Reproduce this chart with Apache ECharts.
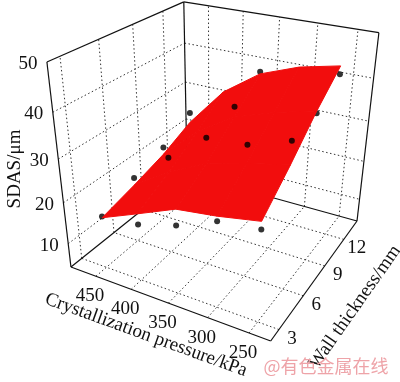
<!DOCTYPE html>
<html><head><meta charset="utf-8">
<style>html,body{margin:0;padding:0;background:#fff}#c{width:400px;height:382px}</style>
<script src="https://cdn.jsdelivr.net/npm/echarts@6/dist/echarts.min.js"></script>
</head><body><div id="c"></div>
<script>
// ---- tick labels ----
const pressureTicks = [450, 400, 350, 300, 250];
const thicknessTicks = [3, 6, 9, 12];
const sdasTicks = [10, 20, 30, 40, 50];
// ---- fitted surface, rows = thickness, columns = pressure ----
const surfaceT3  = [16.5, 20.2, 24.0, 25.2, 26.9];
const surfaceT6  = [18.5, 24.0, 28.5, 30.8, 32.8];
const surfaceT9  = [20.8, 28.5, 34.0, 37.0, 39.3];
const surfaceT12 = [24.1, 33.7, 39.7, 42.9, 44.8];
// ---- measured points ----
const dotPressure  = [450, 400, 350, 300, 250, 450, 450, 450, 250, 250, 250, 400, 350, 300, 350, 350];
const dotThickness = [3, 3, 3, 3, 3, 6, 9, 12, 6, 9, 12, 6, 6, 6, 9, 12];
const dotSdas      = [16.8, 17.7, 20.3, 24.1, 25.2, 20.2, 22.5, 26.5, 37.8, 38.8, 43.0, 27.4, 34.1, 34.8, 36.3, 40.2];
const dotBehind    = [1, 0, 0, 0, 0, 0, 1, 1, 0, 1, 1, 0, 0, 0, 0, 1];
// ---- axis ranges ----
const pressureRange = [225, 487];
const thicknessRange = [2.07, 14.3];
const sdasRange = [4, 50];

// perspective camera
const origin = [270.7, 341], vanU = [-1258, -225.6], vanV = [667, -210], vanW = [212, 1469];
const wU = 0.1503, wV = 0.2784, wW = -0.1676;
function project(p, t, s) {
  const u = (p - pressureRange[0]) / (pressureRange[1] - pressureRange[0]);
  const v = (t - thicknessRange[0]) / (thicknessRange[1] - thicknessRange[0]);
  const w = (s - sdasRange[0]) / (sdasRange[1] - sdasRange[0]);
  const a = wU * u, b = wV * v, c = wW * w, d = 1 + a + b + c;
  return [(origin[0] + a * vanU[0] + b * vanV[0] + c * vanW[0]) / d,
          (origin[1] + a * vanU[1] + b * vanV[1] + c * vanW[1]) / d];
}
const [pLo, pHi] = pressureRange, [tLo, tHi] = thicknessRange, [sLo, sHi] = sdasRange;
function seg(a, b) { return [...project(...a), ...project(...b)]; }

const gridSegs = [];
pressureTicks.forEach(p => {
  gridSegs.push(seg([p, tLo, sLo], [p, tHi, sLo]));
  gridSegs.push(seg([p, tHi, sLo], [p, tHi, sHi]));
});
thicknessTicks.forEach(t => {
  gridSegs.push(seg([pLo, t, sLo], [pHi, t, sLo]));
  gridSegs.push(seg([pHi, t, sLo], [pHi, t, sHi]));
});
sdasTicks.slice(0, 4).forEach(s => {
  gridSegs.push(seg([pHi, tLo, s], [pHi, tHi, s]));
  gridSegs.push(seg([pHi, tHi, s], [pLo, tHi, s]));
});
const boxSegs = [
  seg([pHi, tLo, sLo], [pLo, tLo, sLo]), seg([pLo, tLo, sLo], [pLo, tHi, sLo]),
  seg([pLo, tHi, sLo], [pHi, tHi, sLo]), seg([pHi, tHi, sLo], [pHi, tLo, sLo]),
  seg([pHi, tLo, sLo], [pHi, tLo, sHi]), seg([pHi, tHi, sLo], [pHi, tHi, sHi]),
  seg([pLo, tHi, sLo], [pLo, tHi, sHi]), seg([pHi, tLo, sHi], [pHi, tHi, sHi]),
  seg([pHi, tHi, sHi], [pLo, tHi, sHi])
];

const surfaceRows = [surfaceT3, surfaceT6, surfaceT9, surfaceT12];
const cells = [];
for (let r = 0; r < thicknessTicks.length - 1; r++) {
  for (let c = 0; c < pressureTicks.length - 1; c++) {
    const q = [[c, r], [c + 1, r], [c + 1, r + 1], [c, r + 1]]
      .map(([i, j]) => project(pressureTicks[i], thicknessTicks[j], surfaceRows[j][i]));
    cells.push(q.flat());
  }
}
const dots = dotPressure.map((p, i) => ({ xy: project(p, dotThickness[i], dotSdas[i]), behind: dotBehind[i] }));

const tickFont = '"Liberation Serif","Times New Roman",serif';
const tickLabels = [];
pressureTicks.forEach((p, i) => tickLabels.push({ text: String(p), at: project(p, tLo, sLo), off: [-6, 20 - i * 0] }));
thicknessTicks.forEach(t => tickLabels.push({ text: String(t), at: project(pLo, t, sLo), off: [13, 9] }));
sdasTicks.forEach(s => tickLabels.push({ text: String(s), at: project(pHi, tLo, s), off: [-19, 2] }));

function segSeries(data, style, z) {
  return {
    type: 'custom', coordinateSystem: 'cartesian2d', silent: true, z, clip: false,
    data: data.map((d, i) => [d[0], d[1], i]),
    encode: { x: 0, y: 1 },
    renderItem(params, api) {
      const d = data[api.value(2)];
      const a = api.coord([d[0], d[1]]), b = api.coord([d[2], d[3]]);
      return { type: 'line', shape: { x1: a[0], y1: a[1], x2: b[0], y2: b[1] }, style };
    }
  };
}
const surfaceColor = '#f20d0d';
const option = {
  animation: false,
  backgroundColor: '#fff',
  grid: { left: 0, right: 0, top: 0, bottom: 0 },
  xAxis: { type: 'value', min: 0, max: 400, show: false },
  yAxis: { type: 'value', min: 0, max: 382, inverse: true, show: false },
  series: [
    segSeries(gridSegs, { stroke: '#333', lineWidth: 1, lineDash: [1.5, 2.5] }, 1),
    segSeries(boxSegs, { stroke: '#111', lineWidth: 1.2 }, 2),
    { type: 'scatter', z: 3, silent: true, symbolSize: 6, itemStyle: { color: '#000' },
      data: dots.filter(d => d.behind).map(d => d.xy) },
    { type: 'custom', z: 4, silent: true, coordinateSystem: 'cartesian2d',
      data: cells.map((c, i) => [c[0], c[1], i]), encode: { x: 0, y: 1 },
      renderItem(params, api) {
        const c = cells[api.value(2)];
        const pts = [0, 2, 4, 6].map(k => api.coord([c[k], c[k + 1]]));
        return { type: 'polygon', shape: { points: pts }, style: { fill: surfaceColor, stroke: surfaceColor, lineWidth: 1 } };
      } },
    { type: 'scatter', z: 5, silent: true, symbolSize: 6, itemStyle: { color: '#000' },
      data: dots.filter(d => !d.behind).map(d => d.xy) },
    { type: 'custom', z: 6, silent: true, coordinateSystem: 'cartesian2d',
      data: tickLabels.map((l, i) => [l.at[0], l.at[1], i]), encode: { x: 0, y: 1 },
      renderItem(params, api) {
        const l = tickLabels[api.value(2)];
        const a = api.coord(l.at);
        return { type: 'text', x: a[0] + l.off[0], y: a[1] + l.off[1],
          style: { text: l.text, font: '19px ' + tickFont, fill: '#111', align: 'center', verticalAlign: 'middle' } };
      } }
  ],
  graphic: [
    { type: 'text', x: 15, y: 169, rotation: Math.PI / 2, silent: true,
      style: { text: 'SDAS/μm', font: '19px ' + tickFont, fill: '#111', align: 'center', verticalAlign: 'middle' } },
    { type: 'text', x: 146, y: 335, rotation: -20 * Math.PI / 180, silent: true,
      style: { text: 'Crystallization pressure/kPa', font: '19px ' + tickFont, fill: '#111', align: 'center', verticalAlign: 'middle' } },
    { type: 'text', x: 355, y: 307, rotation: 55 * Math.PI / 180, silent: true,
      style: { text: 'Wall thickness/mm', font: '19px ' + tickFont, fill: '#111', align: 'center', verticalAlign: 'middle' } },
    { type: 'text', x: 326, y: 366, silent: true,
      style: { text: '@有色金属在线', font: '18px "Noto Sans CJK SC"', fill: '#eea3a8', align: 'center', verticalAlign: 'middle' } }
  ]
};
echarts.init(document.getElementById('c'), null, { renderer: 'canvas' }).setOption(option);
</script></body></html>
